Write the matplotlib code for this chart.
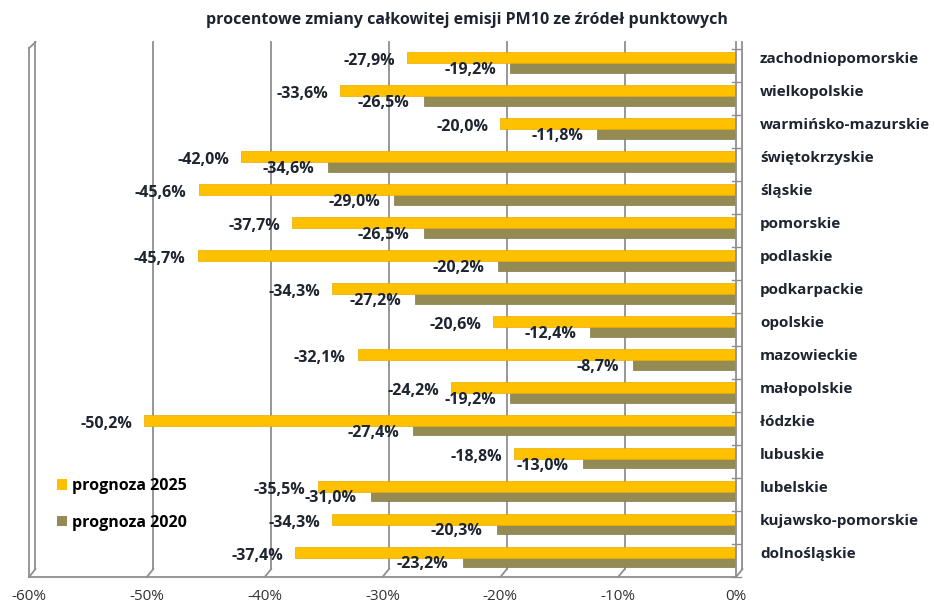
import matplotlib.pyplot as plt
from matplotlib.patches import Patch
from matplotlib.transforms import blended_transform_factory

plt.rcParams['font.family'] = ['Open Sans', 'DejaVu Sans']

regions = ['zachodniopomorskie', 'wielkopolskie', 'warmińsko-mazurskie', 'świętokrzyskie',
           'śląskie', 'pomorskie', 'podlaskie', 'podkarpackie', 'opolskie', 'mazowieckie',
           'małopolskie', 'łódzkie', 'lubuskie', 'lubelskie', 'kujawsko-pomorskie', 'dolnośląskie']
prog_2025 = [-27.9, -33.6, -20.0, -42.0, -45.6, -37.7, -45.7, -34.3, -20.6, -32.1,
             -24.2, -50.2, -18.8, -35.5, -34.3, -37.4]
prog_2020 = [-19.2, -26.5, -11.8, -34.6, -29.0, -26.5, -20.2, -27.2, -12.4, -8.7,
             -19.2, -27.4, -13.0, -31.0, -20.3, -23.2]
x_ticks = [-60, -50, -40, -30, -20, -10, 0]
title = 'procentowe zmiany całkowitej emisji PM10 ze źródeł punktowych'

yellow = '#FFC000'
olive = '#948A54'
grid_c = '#8f8f8f'
txt_c = '#1e2530'
fs = 11.5

fig = plt.figure(figsize=(9.34, 6.07), dpi=100)
W, H = 934, 607
ax = fig.add_axes([29 / W, (H - 577) / H, (736 - 29) / W, (577 - 42) / H])

ax.set_xlim(-60, 0)
ax.set_ylim(15.58, -0.64)

ypos = list(range(len(regions)))
depth = 0.55  # 3d shift of the back wall, in data units

# back gridlines with the small 3d diagonal at the floor
for xt in x_ticks:
    ax.plot([xt + depth, xt + depth], [15.34, -0.64], color=grid_c, lw=1.3, zorder=0, clip_on=False)
    ax.plot([xt, xt + depth], [15.58, 15.34], color=grid_c, lw=1.3, zorder=0, clip_on=False)
# left wall front edge
ax.plot([-60, -60], [15.58, -0.45], color=grid_c, lw=1.3, zorder=0, clip_on=False)
ax.plot([-60, -60 + depth], [-0.45, -0.64], color=grid_c, lw=1.3, zorder=0, clip_on=False)
# floor front line
ax.plot([-60, 0], [15.58, 15.58], color=grid_c, lw=1.3, zorder=0, clip_on=False)
# category axis line and small ticks
ax.plot([0, 0], [15.58, -0.64], color=grid_c, lw=1.3, zorder=4, clip_on=False)
for k in range(len(regions) + 1):
    yb = k - 0.42
    ax.plot([-0.3, 0.4], [yb, yb], color=grid_c, lw=1.0, zorder=4, clip_on=False)

# bars: 2020 behind, 2025 in front
ax.barh([y + 0.14 for y in ypos], prog_2020, height=0.3, color=olive,
        edgecolor='#857c4a', linewidth=0.5, zorder=2)
ax.barh([y - 0.17 for y in ypos], prog_2025, height=0.33, color=yellow,
        edgecolor='#E8AA00', linewidth=0.5, zorder=3)

def fmt(v):
    return f'{v:.1f}%'.replace('.', ',')

for y, v25, v20 in zip(ypos, prog_2025, prog_2020):
    ax.annotate(fmt(v25), (v25, y - 0.06), xytext=(-12, 0), textcoords='offset pixels',
                ha='right', va='center', fontsize=fs, fontweight='bold', color=txt_c, zorder=5)
    ax.annotate(fmt(v20), (v20, y + 0.2), xytext=(-14, 0), textcoords='offset pixels',
                ha='right', va='center', fontsize=fs, fontweight='bold', color=txt_c, zorder=5)

# category names on the right
tr = blended_transform_factory(ax.transAxes, ax.transData)
for y, name in zip(ypos, regions):
    ax.text(1.0 + 24 / 707, y - 0.12, name, transform=tr, ha='left', va='center',
            fontsize=11, fontweight='bold', color=txt_c)

ax.set_yticks([])
ax.set_xticks(x_ticks)
ax.set_xticklabels([f'{t}%' for t in x_ticks], fontsize=11, color='#333333')
ax.tick_params(axis='x', length=0, pad=9)
for s in ax.spines.values():
    s.set_visible(False)

handles = [Patch(facecolor=yellow, label='prognoza 2025'),
           Patch(facecolor=olive, label='prognoza 2020')]
ax.legend(handles=handles, loc='upper left', bbox_to_anchor=(57 / W, (H - 478) / H),
          bbox_transform=fig.transFigure, frameon=False, borderpad=0, borderaxespad=0,
          handlelength=0.62, handleheight=0.62, handletextpad=0.3, labelspacing=1.3,
          prop={'weight': 'bold', 'size': fs})

fig.text(467 / W, 1 - 20 / H, title, ha='center', va='center', fontsize=fs,
         fontweight='bold', color=txt_c)

fig.savefig('out.png', dpi=100)
